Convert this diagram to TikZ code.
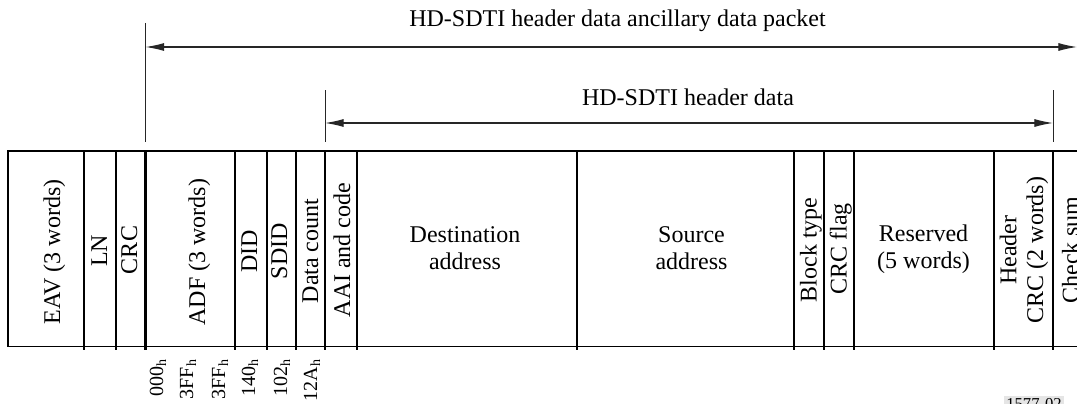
\documentclass[tikz,border=0pt]{standalone}
\usepackage{fontspec}
\setmainfont{Liberation Serif}
\usetikzlibrary{arrows.meta}
\begin{document}
\begin{tikzpicture}[x=0.75pt,y=-0.75pt,
  lbl/.style={font=\fontsize{18}{20}\selectfont, inner sep=0pt, align=center},
  rlbl/.style={lbl, rotate=90, anchor=base},
  hexlbl/.style={font=\fontsize{15}{17}\selectfont, rotate=90, anchor=base east, inner sep=0pt},
  boxline/.style={line width=1.3pt},
  divider/.style={line width=2.2pt},
  extline/.style={line width=0.7pt, draw=black!85},
  dimarrow/.style={line width=0.8pt, draw=black!85, {Latex[length=14pt,width=6pt]}-{Latex[length=14pt,width=6pt]}}
]
\useasboundingbox (0,0) rectangle (1077,403);

% frame
\draw[boxline] (1100,151) -- (8,151) -- (8,346.5) -- (1100,346.5);
\foreach \x in {84,116,145.5,235,267,296,325,357,577,794,824,854,994,1053}
  \draw[divider] (\x,151) -- (\x,350);

% extension lines and dimension arrows
\coordinate (e1t) at (145.5,23);  \coordinate (e1b) at (145.5,142);
\coordinate (e2t) at (325,90);    \coordinate (e2b) at (325,142);
\coordinate (e3t) at (1053,90);   \coordinate (e3b) at (1053,142);
\coordinate (a1l) at (145.5,47);  \coordinate (a1r) at (1077,47);
\coordinate (a2l) at (325,123);   \coordinate (a2r) at (1053,123);
\draw[extline] (e1t) -- (e1b);
\draw[extline] (e2t) -- (e2b);
\draw[extline] (e3t) -- (e3b);
\draw[dimarrow] (a1l) -- (a1r);
\draw[dimarrow] (a2l) -- (a2r);

\node[lbl, anchor=base] (t1) at (617.5,26.7) {HD-SDTI header data ancillary data packet};
\node[lbl, anchor=base] (t2) at (688,105) {HD-SDTI header data};

% field labels
\node[rlbl] (eav) at (60,252) {EAV (3 words)};
\node[rlbl] (ln) at (107,251) {LN};
\node[rlbl] (crc) at (137,250) {CRC};
\node[rlbl] (adf) at (205,252) {ADF (3 words)};
\node[rlbl] (did) at (257,251) {DID};
\node[rlbl] (sdid) at (287,251) {SDID};
\node[rlbl] (dc) at (318,251) {Data count};
\node[rlbl] (aai) at (350,250) {AAI and code};
\node[lbl] (dst) at (465,248) {Destination\\address};
\node[lbl] (src) at (691.5,248) {Source\\address};
\node[rlbl] (bt) at (816.5,250) {Block type};
\node[rlbl] (crcf) at (846.5,249) {CRC flag};
\node[lbl] (res) at (923.5,249) {Reserved\\(5 words)};
\node[lbl, rotate=90] (hcrc) at (1024,250) {Header\\CRC (2 words)};
\node[rlbl] (cks) at (1078.5,250) {Check sum};

% word values
\node[hexlbl] (v1) at (163,359) {000\textsubscript{h}};
\node[hexlbl] (v2) at (193,359) {3FF\textsubscript{h}};
\node[hexlbl] (v3) at (225,359) {3FF\textsubscript{h}};
\node[hexlbl] (v4) at (255,359) {140\textsubscript{h}};
\node[hexlbl] (v5) at (287,359) {102\textsubscript{h}};
\node[hexlbl] (v6) at (317,359) {12A\textsubscript{h}};

% figure number
\node[font=\fontsize{12.5}{14}\selectfont, fill=black!10, inner sep=1.5pt, anchor=base west] (fig) at (1004,409) {1577-02};
\end{tikzpicture}
\end{document}
